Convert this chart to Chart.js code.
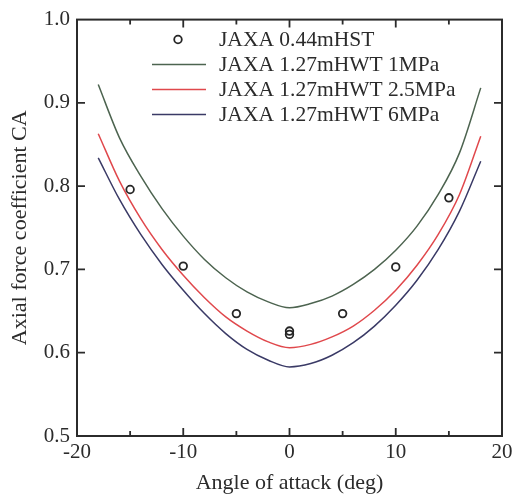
<!DOCTYPE html>
<html>
<head>
<meta charset="utf-8">
<script src="https://cdn.jsdelivr.net/npm/chart.js@4/dist/chart.umd.min.js"></script>
<style>
  body { margin: 0; background: #fff; }
  #wrap { width: 521px; height: 499px; position: relative; }
</style>
</head>
<body>
<div id="wrap"><canvas id="myChart"></canvas></div>
<script>
// angle of attack (deg) for the computed curves
const angles = [-18, -16, -14, -12, -10, -8, -6, -4, -2, 0, 2, 4, 6, 8, 10, 12, 14, 16, 18]
const ca1MPa = [0.922, 0.858, 0.812, 0.773, 0.740, 0.712, 0.690, 0.673, 0.661, 0.654, 0.659, 0.668, 0.682, 0.700, 0.723, 0.752, 0.790, 0.840, 0.918]
const ca25MPa = [0.863, 0.806, 0.761, 0.724, 0.693, 0.666, 0.643, 0.626, 0.613, 0.606, 0.610, 0.619, 0.632, 0.651, 0.675, 0.705, 0.742, 0.790, 0.860]
const ca6MPa = [0.834, 0.784, 0.742, 0.706, 0.675, 0.647, 0.623, 0.604, 0.591, 0.583, 0.587, 0.597, 0.612, 0.632, 0.657, 0.687, 0.724, 0.770, 0.830]
// HST measurements
const hstAngles = [-15, -10, -5, 0, 0, 5, 10, 15]
const hstCA = [0.796, 0.704, 0.647, 0.622, 0.626, 0.647, 0.703, 0.786]
const seriesLabels = ['JAXA 0.44mHST', 'JAXA 1.27mHWT 1MPa', 'JAXA 1.27mHWT 2.5MPa', 'JAXA 1.27mHWT 6MPa']
const xTicks = [-20, -10, 0, 10, 20]
const yTicks = [0.5, 0.6, 0.7, 0.8, 0.9, 1.0]

const ink = '#2b2b2b'
const serif = '"Liberation Serif", "DejaVu Serif", serif'

const toPoints = (xs, ys) => xs.map((x, i) => ({ x: x, y: ys[i] }))

// box + inward ticks on all four sides
const frame = {
  id: 'frame',
  afterDraw(chart) {
    const { ctx, chartArea: a, scales } = chart
    ctx.save()
    ctx.strokeStyle = ink
    ctx.lineWidth = 2
    ctx.strokeRect(a.left, a.top, a.right - a.left, a.bottom - a.top)
    ctx.lineWidth = 1.8
    for (let v = -15; v <= 15; v += 5) {
      const px = scales.x.getPixelForValue(v)
      const len = v % 10 === 0 ? 8 : 5
      ctx.beginPath()
      ctx.moveTo(px, a.bottom); ctx.lineTo(px, a.bottom - len)
      ctx.moveTo(px, a.top); ctx.lineTo(px, a.top + len)
      ctx.stroke()
    }
    yTicks.slice(1, -1).forEach(v => {
      const py = scales.y.getPixelForValue(v)
      ctx.beginPath()
      ctx.moveTo(a.left, py); ctx.lineTo(a.left + 8, py)
      ctx.moveTo(a.right, py); ctx.lineTo(a.right - 8, py)
      ctx.stroke()
    })
    ctx.restore()
  }
}

// legend drawn inside the plot, upper middle
const innerLegend = {
  id: 'innerLegend',
  afterDatasetsDraw(chart) {
    const { ctx } = chart
    const x0 = 152, x1 = 206, tx = 219
    let y = 39.5
    ctx.save()
    ctx.font = '21.5px ' + serif
    ctx.textBaseline = 'middle'
    chart.data.datasets.forEach((ds, i) => {
      ctx.strokeStyle = ds.borderColor
      if (i === 0) {
        ctx.lineWidth = 1.8
        ctx.beginPath()
        ctx.arc((x0 + x1) / 2 - 1, y, 3.8, 0, Math.PI * 2)
        ctx.stroke()
      } else {
        ctx.lineWidth = 1.5
        ctx.beginPath()
        ctx.moveTo(x0, y); ctx.lineTo(x1, y)
        ctx.stroke()
      }
      ctx.fillStyle = ink
      ctx.fillText(ds.label, tx, y + 1)
      y += 25
    })
    ctx.restore()
  }
}

const ctx = document.getElementById('myChart')
const lineStyle = color => ({
  borderColor: color,
  borderWidth: 1.5,
  pointRadius: 0,
  showLine: true,
  cubicInterpolationMode: 'monotone'
})

const myChart = new Chart(ctx, {
  type: 'scatter',
  data: {
    datasets: [
      {
        label: seriesLabels[0],
        data: toPoints(hstAngles, hstCA),
        borderColor: '#262626',
        backgroundColor: 'rgba(255,255,255,0)',
        borderWidth: 1.8,
        pointRadius: 3.8,
        showLine: false
      },
      Object.assign({ label: seriesLabels[1], data: toPoints(angles, ca1MPa) }, lineStyle('#4d6450')),
      Object.assign({ label: seriesLabels[2], data: toPoints(angles, ca25MPa) }, lineStyle('#e0484c')),
      Object.assign({ label: seriesLabels[3], data: toPoints(angles, ca6MPa) }, lineStyle('#3a3a66'))
    ]
  },
  options: {
    responsive: true,
    maintainAspectRatio: false,
    animation: false,
    layout: { padding: { top: 12, right: 19, left: 0, bottom: 0 } },
    plugins: {
      legend: { display: false },
      tooltip: { enabled: false }
    },
    scales: {
      x: {
        type: 'linear',
        min: -20,
        max: 20,
        afterBuildTicks: scale => { scale.ticks = xTicks.map(v => ({ value: v })) },
        afterFit: scale => { scale.height = 63 },
        grid: { display: false, drawTicks: false },
        border: { display: false },
        ticks: { color: ink, font: { family: serif, size: 21 }, padding: 4, maxRotation: 0 },
        title: {
          display: true,
          text: 'Angle of attack (deg)',
          color: ink,
          font: { family: serif, size: 22 },
          padding: { top: 0, bottom: 3 }
        }
      },
      y: {
        type: 'linear',
        min: 0.5,
        max: 1.0,
        afterBuildTicks: scale => { scale.ticks = yTicks.map(v => ({ value: v })) },
        afterFit: scale => { scale.width = 77 },
        grid: { display: false, drawTicks: false },
        border: { display: false },
        ticks: {
          color: ink,
          font: { family: serif, size: 21 },
          padding: 7,
          callback: v => v.toFixed(1)
        },
        title: {
          display: true,
          text: 'Axial force coefficient CA',
          color: ink,
          font: { family: serif, size: 22 },
          padding: { top: 7, bottom: 0 }
        }
      }
    }
  },
  plugins: [frame, innerLegend]
})
</script>
</body>
</html>
